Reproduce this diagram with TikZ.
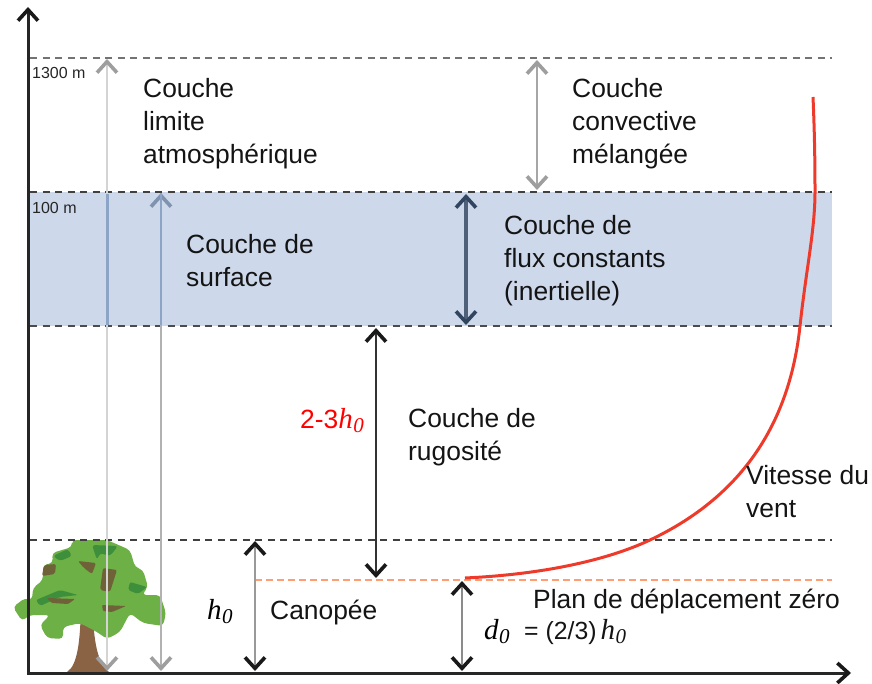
\documentclass[tikz,border=0pt]{standalone}
\usepackage{fontspec}
\setmainfont{Liberation Sans}
\newfontfamily\mathserif[ItalicFont=Liberation Serif Italic]{Liberation Serif}
\usetikzlibrary{arrows.meta}
\definecolor{bandblue}{HTML}{CDD8EA}
\definecolor{curvered}{HTML}{EE3A2A}
\definecolor{leaf}{HTML}{6DB045}
\definecolor{leafdark}{HTML}{3E8F3C}
\definecolor{bark}{HTML}{8A6244}
\definecolor{barkdark}{HTML}{6F6238}
\definecolor{darkblue}{HTML}{2F4560}
\definecolor{bandline}{HTML}{8CA5C6}
\definecolor{bandhead}{HTML}{7F93AE}
\newcommand{\hzero}{{\mathserif\itshape\fontsize{29}{29}\selectfont h\kern0.5pt\raisebox{-4pt}{\fontsize{21}{21}\selectfont 0}}}
\newcommand{\dzero}{{\mathserif\itshape\fontsize{29}{29}\selectfont d\kern0.5pt\raisebox{-4pt}{\fontsize{21}{21}\selectfont 0}}}
\tikzset{
  txt/.style={anchor=north west,align=left,inner sep=0pt,font=\fontsize{26.4}{33}\selectfont,text=black!92},
  small/.style={anchor=west,inner sep=0pt,font=\fontsize{16}{18}\selectfont,text=black!85},
  level/.style={dash pattern=on 7pt off 5.5pt,line width=1.6pt,black!75},
  zeroplane/.style={dash pattern=on 7pt off 4pt,line width=1.4pt,red!40!orange!55},
  blackbarb/.tip={Straight Barb[black!90,length=11pt,width=20pt,line width=3.6pt]},
  greybarb/.tip={Straight Barb[black!38,length=11pt,width=20pt,line width=3.6pt]},
  bluebarb/.tip={Straight Barb[darkblue,length=11pt,width=20pt,line width=3.6pt]},
  bandbarb/.tip={Straight Barb[bandhead,length=11pt,width=20pt,line width=3.6pt]},
  axisline/.style={line width=3pt,black!85,-blackbarb},
  blackhead/.style={blackbarb-blackbarb},
  greyhead/.style={greybarb-greybarb},
  bluehead/.style={bluebarb-bluebarb},
}
\begin{document}
\begin{tikzpicture}[x=1pt,y=-1pt]
\useasboundingbox (0,0) rectangle (872,684);

% surface layer band
\fill[bandblue] (30,192) rectangle (832,326);

% tree
\fill[bark] (67,672) .. controls (78,665) and (80,640) .. (81,608) -- (93,608)
  .. controls (93,640) and (98,665) .. (109,672) -- cycle;
\fill[leaf,rounded corners=4pt] (13,607) -- (25,598) -- (32,600) -- (33,588) -- (43,580) -- (43,565)
  -- (53,563) -- (52,553) -- (72,547) -- (72,540) -- (107,540) -- (130,550) -- (135,567)
  -- (143,570) -- (148,587) -- (142,595) -- (160,595) -- (166,613) -- (163,626) -- (143,623)
  -- (130,613) -- (120,632) -- (107,639) -- (97,632) -- (80,623) -- (63,627) -- (63,639)
  -- (47,638) -- (40,625) -- (50,615) -- (30,615) -- (22,621) -- cycle;
\fill[leafdark,rounded corners=3pt] (53,556) -- (68,549) -- (72,556) -- (60,561) -- cycle;
\fill[leafdark,rounded corners=3pt] (92,545) -- (118,546) -- (110,556) -- (100,553) -- (97,560) -- cycle;
\fill[leafdark,rounded corners=2pt] (130,582) -- (147,587) -- (138,594) -- (128,590) -- cycle;
\fill[leafdark,rounded corners=2pt] (36,600) -- (60,590) -- (78,595) -- (60,597) -- (40,606) -- cycle;
\fill[barkdark,rounded corners=2pt] (44,565) -- (56,564) -- (55,574) -- (42,576) -- cycle;
\fill[barkdark,rounded corners=2pt] (78,561) -- (96,563) -- (92,574) -- (84,568) -- cycle;
\fill[barkdark,rounded corners=2pt] (103,568) -- (117,570) -- (110,592) -- (100,590) -- cycle;
\fill[barkdark,rounded corners=1pt] (102,605) -- (126,606) -- (112,612) -- (103,611) -- cycle;
\fill[barkdark,rounded corners=1pt] (47,598) -- (75,599) -- (68,604) -- (52,603) -- cycle;

% axes
\coordinate (origin) at (28,674);
\coordinate (ytop) at (28,7);
\coordinate (xend) at (851,673);
\draw[axisline] (origin) -- (ytop);
\draw[axisline] (27,673) -- (xend);

% height levels
\coordinate (top1300) at (30,58);
\coordinate (end1300) at (832,58);
\coordinate (top100) at (30,192);
\coordinate (end100) at (832,192);
\coordinate (toprough) at (30,326);
\coordinate (endrough) at (832,326);
\coordinate (topcanopy) at (30,540);
\coordinate (endcanopy) at (832,540);
\coordinate (planestart) at (255,580);
\coordinate (planeend) at (832,580);
\draw[level,black!55] (top1300) -- (end1300);
\draw[level] (top100) -- (end100);
\draw[level,black!70] (toprough) -- (endrough);
\draw[level] (topcanopy) -- (endcanopy);
\draw[zeroplane] (planestart) -- (planeend);

% layer thickness arrows
\coordinate (atmtop) at (107,59);
\coordinate (atmbot) at (107,671);
\coordinate (atmbandtop) at (107,194);
\coordinate (atmbandbot) at (107,325);
\coordinate (surftop) at (161,193);
\coordinate (surfbot) at (161,671);
\coordinate (surfbandbot) at (161,325);
\coordinate (mixtop) at (537,60);
\coordinate (mixbot) at (537,190);
\coordinate (fluxtop) at (466,194);
\coordinate (fluxbot) at (466,325);
\coordinate (roughtop) at (376,328);
\coordinate (roughbot) at (376,578);
\coordinate (hztop) at (255,541);
\coordinate (hzbot) at (255,671);
\coordinate (dztop) at (462,581);
\coordinate (dzbot) at (462,671);

\draw[greyhead,line width=1.6pt,black!17] (atmtop) -- (atmbot);
\draw[bandline,line width=3pt] (atmbandtop) -- (atmbandbot);
\draw[bandbarb-greybarb,line width=1.6pt,black!30] (surftop) -- (surfbot);
\draw[bandline,line width=2pt] (surftop) -- (surfbandbot);
\draw[greyhead,line width=1.8pt,black!35] (mixtop) -- (mixbot);
\draw[bluehead,line width=3.4pt,darkblue!85] (fluxtop) -- (fluxbot);
\draw[blackhead,line width=1.8pt,black!80] (roughtop) -- (roughbot);
\draw[blackhead,line width=1.6pt,black!40] (hztop) -- (hzbot);
\draw[blackhead,line width=1.2pt,black!45] (dztop) -- (dzbot);

% wind speed profile
\coordinate (windstart) at (465,578);
\coordinate (windA) at (650,540);
\coordinate (windB) at (800,326);
\coordinate (windC) at (815,192);
\coordinate (windend) at (813,97);
\draw[curvered,line width=3pt] (windstart)
  .. controls (550,574) and (612,558) .. (windA)
  .. controls (745,495) and (790,420) .. (windB)
  .. controls (806,270) and (815,230) .. (windC)
  .. controls (815,150) and (814,120) .. (windend);

% labels
\node[small] (l1300) at (32,73) {1300 m};
\node[small] (l100) at (32,208) {100 m};
\node[txt] (atm) at (143,78) {Couche\\limite\\atmosphérique};
\node[txt] (surf) at (186,234) {Couche de\\surface};
\node[txt] (mix) at (572,78) {Couche\\convective\\mélangée};
\node[txt] (flux) at (504,215) {Couche de\\flux constants\\(inertielle)};
\node[txt] (rough) at (408,408) {Couche de\\rugosité};
\node[anchor=west,inner sep=0pt,text=red,font=\fontsize{26.4}{28}\selectfont] (range) at (300,421) {2-3\hzero};
\node[txt] (wind) at (746,465) {Vitesse du\\vent};
\node[anchor=west,inner sep=0pt] (hz) at (207,612) {\hzero};
\node[txt] (canopy) at (270,600) {Canopée};
\node[txt] (plane) at (533,589) {Plan de déplacement zéro};
\node[anchor=west,inner sep=0pt] (dz) at (484,632) {\dzero};
\node[anchor=west,inner sep=0pt,font=\fontsize{24.8}{28}\selectfont,text=black!92] (dzval) at (524,632) {= (2/3)\,\hzero};
\end{tikzpicture}
\end{document}
